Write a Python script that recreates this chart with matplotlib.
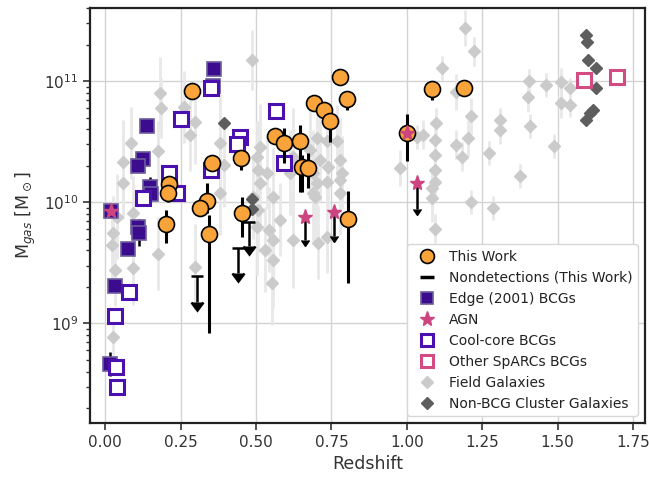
import numpy as np
import matplotlib
matplotlib.use("Agg")
import matplotlib.pyplot as plt
from matplotlib.lines import Line2D

# ---------------- data (log10 M_gas in M_sun) ----------------
# This Work detections
tw_z = [0.288, 0.212, 0.208, 0.202, 0.354, 0.337, 0.314, 0.344, 0.450, 0.453, 0.562, 0.592,
        0.645, 0.652, 0.672, 0.691, 0.724, 0.744, 0.777, 0.801, 0.804, 0.999, 1.082, 1.188]
tw_logm = [10.918, 10.152, 10.078, 9.823, 10.325, 10.012, 9.955, 9.741, 10.366, 9.914, 10.547, 10.490,
           10.506, 10.292, 10.284, 10.819, 10.761, 10.671, 11.033, 10.852, 9.864, 10.572, 10.934, 10.942]
tw_dlo = [0.0, 0.05, 0.08, 0.156, 0.04, 0.10, 0.06, 0.82, 0.10, 0.20, 0.03, 0.165,
          0.42, 0.206, 0.165, 0.03, 0.07, 0.17, 0.0, 0.09, 0.535, 0.23, 0.09, 0.0]
tw_dhi = [0.0, 0.05, 0.05, 0.115, 0.04, 0.15, 0.06, 0.15, 0.03, 0.13, 0.07, 0.12,
          0.13, 0.10, 0.12, 0.06, 0.07, 0.03, 0.0, 0.07, 0.23, 0.156, 0.07, 0.0]

# Nondetections (This Work) upper limits
nd_z = [0.304, 0.440, 0.476]
nd_logm = [9.387, 9.626, 9.840]
nd_arrow = [0.21, 0.21, 0.20]

# AGN
agn_z = [0.020, 0.999, 0.662, 0.758, 1.032]
agn_logm = [9.930, 10.572, 9.880, 9.922, 10.160]
agn_ul_z = [0.662, 0.758, 1.032]
agn_ul_logm = [9.880, 9.922, 10.160]
agn_ul_arrow = [0.19, 0.20, 0.22]

# Edge (2001) BCGs
edge_z = [0.361, 0.358, 0.139, 0.126, 0.109, 0.149, 0.152, 0.109, 0.112, 0.076, 0.020, 0.033, 0.017]
edge_logm = [11.099, 10.960, 10.630, 10.358, 10.300, 10.128, 10.070, 9.798, 9.749, 9.617, 9.930, 9.305, 8.663]
edge_err = [0.0, 0.0, 0.0, 0.0, 0.0, 0.08, 0.0, 0.0, 0.11, 0.0, 0.0, 0.0, 0.10]

# Cool-core BCGs
cc_z = [0.351, 0.251, 0.566, 0.447, 0.437, 0.592, 0.351, 0.212, 0.238, 0.126, 0.079, 0.033, 0.036, 0.040]
cc_logm = [10.942, 10.687, 10.753, 10.539, 10.481, 10.325, 10.267, 10.243, 10.078, 10.037,
           9.255, 9.058, 8.638, 8.473]

# Other SpARCs BCGs
sp_z = [1.588, 1.697]
sp_logm = [11.008, 11.033]

# Non-BCG cluster galaxies
nb_z = [0.394, 0.486, 0.486, 1.594, 1.598, 1.601, 1.628, 1.628, 1.618, 1.608, 1.594]
nb_logm = [10.654, 10.029, 9.947, 11.379, 11.321, 11.173, 11.107, 10.942, 10.761, 10.737, 10.679]

# Field galaxies
fg_z = [1.194, 1.221, 1.115, 1.406, 1.403, 1.462, 1.512, 1.542, 1.512, 1.542, 1.164, 1.214, 1.095,
        1.310, 1.310, 1.409, 1.052, 1.032, 1.092, 1.204, 1.164, 1.092, 1.184, 1.274, 1.489, 0.976,
        1.092, 1.092, 1.085, 1.376, 1.082, 1.214, 1.287, 1.092, 0.486, 0.182, 0.185, 0.261, 0.298,
        0.281, 0.086, 0.175, 0.060, 0.380, 0.394, 0.060, 0.513, 0.503, 0.536, 0.380, 0.556, 0.579,
        0.701, 0.734, 0.678, 0.711, 0.767, 0.777, 0.738, 0.688, 0.734, 0.777, 0.688, 0.777, 0.622,
        0.612, 0.506, 0.513, 0.490, 0.506, 0.503, 0.543, 0.556, 0.529, 0.556, 0.552, 0.622, 0.701,
        0.695, 0.705, 0.734, 0.026, 0.023, 0.093, 0.040, 0.033, 0.093, 0.175, 0.298, 0.026, 0.784]
fg_logm = [11.436, 11.247, 11.107, 11.000, 10.868, 10.967, 10.992, 10.942, 10.819, 10.802, 10.909,
           10.712, 10.654, 10.679, 10.597, 10.630, 10.556, 10.539, 10.514, 10.531, 10.473, 10.391,
           10.374, 10.407, 10.465, 10.284, 10.267, 10.169, 10.119, 10.218, 10.037, 10.004, 9.955,
           9.782, 11.173, 10.901, 10.778, 10.786, 10.663, 10.556, 10.490, 10.424, 10.333, 10.490,
           10.309, 10.160, 10.457, 10.374, 10.243, 10.078, 10.045, 9.856, 10.531, 10.506, 10.432,
           10.350, 10.506, 10.350, 10.292, 10.243, 10.169, 10.185, 10.078, 10.078, 10.374, 10.243,
           10.267, 10.160, 10.045, 9.938, 9.798, 9.774, 9.691, 9.609, 9.527, 9.337, 9.691, 10.160,
           10.045, 9.667, 9.716, 9.749, 9.650, 9.914, 9.881, 9.444, 9.453, 9.576, 9.469, 8.885, 10.243]
fg_err = [0.15, 0.12, 0.10, 0.10, 0.12, 0.10, 0.12, 0.08, 0.12, 0.10, 0.15, 0.15, 0.12,
          0.10, 0.12, 0.10, 0.12, 0.10, 0.10, 0.15, 0.12, 0.12, 0.12, 0.10, 0.10, 0.15,
          0.20, 0.15, 0.15, 0.10, 0.20, 0.10, 0.10, 0.12, 0.25, 0.30, 0.25, 0.30, 0.35,
          0.30, 0.30, 0.25, 0.35, 0.40, 0.35, 0.30, 0.35, 0.30, 0.30, 0.35, 0.40, 0.30,
          0.35, 0.30, 0.40, 0.35, 0.30, 0.35, 0.40, 0.35, 0.30, 0.30, 0.40, 0.35, 0.40,
          0.35, 0.40, 0.40, 0.35, 0.35, 0.40, 0.35, 0.30, 0.35, 0.40, 0.35, 0.40, 0.35,
          0.35, 0.30, 0.30, 0.30, 0.30, 0.30, 0.35, 0.30, 0.30, 0.30, 0.35, 0.15, 0.30]

# ---------------- helpers ----------------
def lin(a):
    return 10 ** np.asarray(a, dtype=float)

def errs(logm, dlo, dhi):
    logm = np.asarray(logm, float)
    m = 10 ** logm
    lo = m - 10 ** (logm - np.asarray(dlo, float))
    hi = 10 ** (logm + np.asarray(dhi, float)) - m
    return np.vstack([lo, hi])

def blacken(container):
    for cl in container[1]:
        cl.set_color("k")
        cl.set_markerfacecolor("k")
        cl.set_markeredgecolor("k")

ORANGE = "#f9a43a"
EDGE_C = "#3c0c8f"
CC_C = "#4a10b0"
PINK = "#d24b82"
AGN_C = "#cc4580"
FIELD_C = "#cbcbcb"
FIELD_E = "#e8e8e8"
NB_C = "#5e5e5e"

fig = plt.figure(figsize=(6.49, 4.83), dpi=100)
ax = fig.add_axes([0.139, 0.124, 0.855, 0.859])

# field galaxies
ax.errorbar(fg_z, lin(fg_logm), yerr=errs(fg_logm, fg_err, fg_err), fmt="D", ms=6.3,
            mfc=FIELD_C, mec=FIELD_C, ecolor=FIELD_E, elinewidth=2, capsize=0, zorder=1)
# non-BCG cluster galaxies
ax.plot(nb_z, lin(nb_logm), "D", ms=6.5, mfc=NB_C, mec=NB_C, zorder=2)

# Edge BCGs
ax.errorbar(edge_z, lin(edge_logm), yerr=errs(edge_logm, edge_err, edge_err), fmt="none",
            ecolor="k", elinewidth=1.8, capsize=0, zorder=3)
ax.plot(edge_z, lin(edge_logm), "s", ms=10, mfc=EDGE_C, mec="#6d5c9c", mew=1.2, zorder=3.5)
# Cool-core BCGs
ax.plot(cc_z, lin(cc_logm), "s", ms=10, mfc="white", mec=CC_C, mew=2.2, zorder=4)
# Other SpARCs BCGs
ax.plot(sp_z, lin(sp_logm), "s", ms=10, mfc="white", mec=PINK, mew=2.2, zorder=4)

# This Work
ax.errorbar(tw_z, lin(tw_logm), yerr=errs(tw_logm, tw_dlo, tw_dhi), fmt="none",
            ecolor="k", elinewidth=2.2, capsize=0, zorder=5)
ax.plot(tw_z, lin(tw_logm), "o", ms=11.5, mfc=ORANGE, mec="k", mew=1.2, zorder=6)

# Nondetections
nd_m = lin(nd_logm)
c1 = ax.errorbar(nd_z, nd_m, yerr=[nd_m - lin(np.array(nd_logm) - np.array(nd_arrow)), np.zeros(3)],
                 uplims=True, fmt="none", ecolor="k", elinewidth=1.8, capsize=4, capthick=1.8, zorder=5)
blacken(c1)
agn_m = lin(agn_ul_logm)
c2 = ax.errorbar(agn_ul_z, agn_m, yerr=[agn_m - lin(np.array(agn_ul_logm) - np.array(agn_ul_arrow)), np.zeros(3)],
                 uplims=True, fmt="none", ecolor="k", elinewidth=1.8, capsize=0, zorder=5)
blacken(c2)

# AGN
ax.plot(agn_z, lin(agn_logm), "*", ms=11, mfc=AGN_C, mec=AGN_C, zorder=7)

ax.set_yscale("log")
ax.set_xlim(-0.05, 1.79)
ax.set_ylim(1.5e8, 4.0e11)
ax.set_xticks([0.0, 0.25, 0.5, 0.75, 1.0, 1.25, 1.5, 1.75])
ax.set_xticklabels(["0.00", "0.25", "0.50", "0.75", "1.00", "1.25", "1.50", "1.75"])
ax.grid(True, which="major", color="#d3d3d3", lw=1.0, zorder=0)
ax.set_axisbelow(True)
for s in ax.spines.values():
    s.set_linewidth(1.6)
    s.set_color("#222222")
ax.tick_params(axis="both", which="major", labelsize=11, length=5, width=1.2, color="#333333", labelcolor="#333333")
ax.tick_params(axis="y", which="minor", length=3, width=1.0, color="#333333")
ax.set_xlabel("Redshift", fontsize=12.5, color="#333333")
ax.set_ylabel(r"M$_{gas}$ [M$_\odot$]", fontsize=12.5, color="#333333")

handles = [
    Line2D([], [], ls="none", marker="o", ms=10, mfc=ORANGE, mec="k", mew=1.2),
    Line2D([], [], ls="none", marker="_", ms=10, mec="k", mew=2.5),
    Line2D([], [], ls="none", marker="s", ms=9, mfc=EDGE_C, mec="#6d5c9c", mew=1.2),
    Line2D([], [], ls="none", marker="*", ms=11, mfc=AGN_C, mec=AGN_C),
    Line2D([], [], ls="none", marker="s", ms=9, mfc="white", mec=CC_C, mew=2.2),
    Line2D([], [], ls="none", marker="s", ms=9, mfc="white", mec=PINK, mew=2.2),
    Line2D([], [], ls="none", marker="D", ms=6, mfc=FIELD_C, mec=FIELD_C),
    Line2D([], [], ls="none", marker="D", ms=6, mfc=NB_C, mec=NB_C),
]
labels = ["This Work", "Nondetections (This Work)", "Edge (2001) BCGs", "AGN", "Cool-core BCGs",
          "Other SpARCs BCGs", "Field Galaxies", "Non-BCG Cluster Galaxies"]
leg = ax.legend(handles, labels, loc="lower right", fontsize=10, framealpha=1.0,
                edgecolor="#d8d8d8", handletextpad=0.6, borderpad=0.4)
for t in leg.get_texts():
    t.set_color("#222222")

fig.savefig("out.png", dpi=100)
